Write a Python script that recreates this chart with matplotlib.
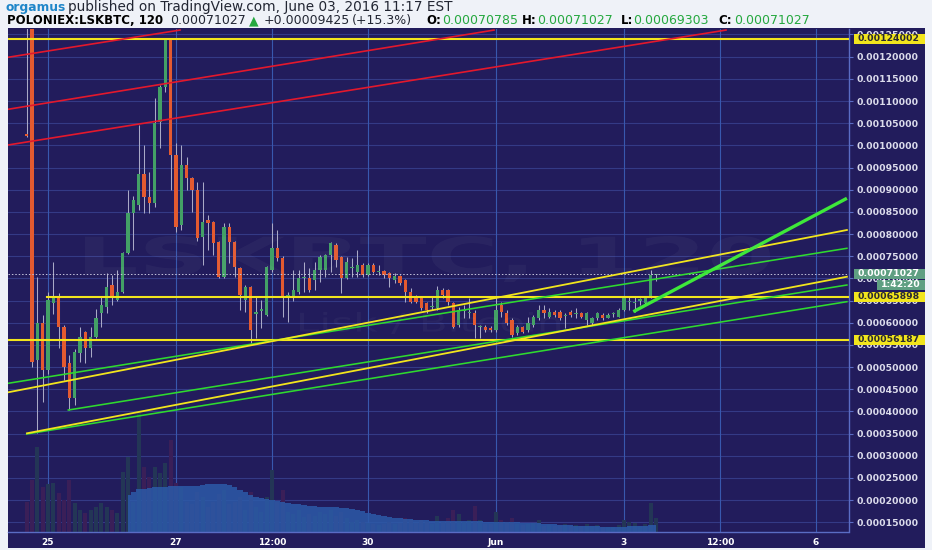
import matplotlib
matplotlib.use("Agg")
import numpy as np
import matplotlib.pyplot as plt
from matplotlib.patches import Rectangle, PathPatch
from matplotlib.textpath import TextPath
from matplotlib.font_manager import FontProperties
from matplotlib.transforms import IdentityTransform, Affine2D, blended_transform_factory

W, H = 932, 550

# candle index 0 = May 25 00:00, one candle every 2 hours
# prices are in units of 1e-5 BTC
candle_idx = list(range(-4, 115))
opens = [102.6, 135.0, 51.6, 59.9, 49.3, 64.5, 65.8, 59.0, 50.9, 43.0,
         53.2, 57.9, 54.3, 56.8, 62.2, 63.6, 68.5, 65.1, 67.0, 75.7,
         84.7, 86.5, 93.5, 88.3, 87.0, 105.3, 113.2, 123.8, 97.8, 82.0,
         95.6, 92.6, 89.9, 79.3, 83.2, 82.7, 78.2, 70.3, 81.6, 78.2,
         72.3, 65.1, 68.1, 62.0, 62.7, 61.7, 71.9, 76.8, 74.6, 65.6,
         65.6, 66.9, 70.0, 70.1, 69.6, 71.9, 71.9, 75.3, 77.6, 74.8,
         70.1, 72.3, 71.4, 73.0, 70.8, 73.0, 71.4, 71.7, 71.2, 69.6,
         70.5, 69.6, 66.9, 65.8, 65.8, 64.4, 63.6, 63.3, 67.4, 67.4,
         64.4, 59.5, 62.6, 62.2, 62.2, 59.0, 59.0, 58.8, 58.4, 64.0,
         62.2, 60.6, 57.7, 59.0, 58.4, 59.5, 61.1, 62.9, 61.3, 62.4,
         62.4, 61.6, 62.4, 61.9, 62.2, 60.6, 59.9, 61.1, 61.7, 61.1,
         61.9, 61.3, 62.9, 64.6, 64.5, 65.0, 64.4, 65.8, 70.785]
highs = [140.0, 140.0, 70.3, 61.7, 67.0, 73.7, 66.7, 59.5, 52.7, 54.0,
         59.0, 58.1, 59.0, 63.1, 65.9, 71.1, 70.8, 71.9, 76.0, 89.9,
         88.5, 104.6, 100.1, 94.0, 110.7, 113.5, 124.0, 124.0, 100.5, 100.1,
         97.4, 92.9, 91.7, 91.7, 84.3, 83.0, 78.5, 82.5, 82.5, 78.5,
         72.5, 68.5, 68.3, 65.8, 65.1, 72.8, 82.5, 80.9, 75.0, 66.9,
         71.9, 71.9, 73.7, 72.3, 73.7, 75.3, 75.5, 78.2, 78.0, 75.0,
         74.8, 74.6, 76.4, 73.5, 73.5, 73.5, 73.0, 71.9, 71.4, 71.2,
         70.8, 69.8, 67.9, 66.3, 65.9, 64.7, 65.8, 68.3, 67.9, 67.6,
         64.6, 63.5, 64.0, 65.6, 62.9, 59.5, 59.5, 59.3, 65.8, 64.7,
         62.9, 61.1, 59.5, 59.3, 61.3, 61.7, 64.0, 64.0, 63.3, 62.9,
         62.9, 62.2, 62.9, 63.3, 62.4, 62.4, 61.3, 62.4, 62.2, 62.2,
         62.4, 63.3, 65.8, 65.8, 65.8, 65.6, 65.8, 71.9, 71.027]
lows = [101.9, 50.0, 35.1, 42.1, 48.5, 62.0, 54.3, 47.1, 40.3, 41.4,
        51.1, 50.9, 52.3, 56.6, 59.1, 62.1, 64.0, 64.8, 66.8, 75.5,
        76.4, 85.5, 84.7, 84.7, 86.0, 99.4, 112.0, 89.9, 80.5, 80.9,
        89.9, 85.0, 78.5, 73.0, 76.4, 75.3, 70.1, 70.1, 73.5, 70.3,
        62.9, 62.4, 55.4, 56.5, 58.8, 61.5, 71.5, 74.0, 61.3, 60.2,
        65.0, 66.5, 66.9, 66.9, 67.4, 69.2, 70.3, 71.4, 72.6, 66.7,
        69.9, 70.3, 70.3, 70.3, 70.5, 71.2, 70.8, 70.1, 68.1, 69.0,
        68.5, 64.7, 64.4, 64.4, 62.9, 62.2, 62.9, 62.9, 65.6, 64.0,
        58.8, 59.0, 61.1, 61.1, 56.5, 56.5, 57.9, 57.9, 58.0, 61.3,
        59.5, 56.8, 57.2, 57.7, 57.9, 59.0, 60.6, 61.1, 61.1, 61.3,
        60.6, 58.8, 61.3, 61.1, 61.1, 59.5, 59.5, 60.6, 60.6, 61.1,
        61.3, 61.3, 62.7, 62.9, 62.4, 64.0, 64.0, 65.6, 69.303]
closes = [102.2, 51.1, 59.9, 49.3, 65.1, 65.8, 59.0, 50.0, 43.0, 53.4,
          56.8, 54.3, 56.8, 61.1, 64.0, 68.1, 65.5, 67.0, 75.7, 84.7,
          87.7, 93.5, 88.3, 87.0, 105.0, 113.2, 123.8, 97.8, 81.6, 95.6,
          92.6, 89.9, 79.1, 82.7, 82.5, 78.0, 70.3, 81.6, 78.2, 72.6,
          66.3, 68.1, 58.4, 62.4, 63.0, 72.6, 76.8, 74.6, 65.6, 66.2,
          67.4, 70.1, 70.2, 67.4, 71.9, 74.8, 75.3, 78.0, 74.1, 70.1,
          73.7, 72.5, 73.0, 70.8, 73.0, 71.4, 71.6, 70.8, 70.1, 70.5,
          69.0, 66.9, 64.7, 64.7, 63.3, 62.9, 63.8, 67.4, 66.3, 64.7,
          59.0, 62.9, 62.9, 62.5, 59.5, 59.2, 58.4, 58.4, 62.9, 62.4,
          59.9, 57.2, 59.0, 57.9, 59.9, 61.3, 62.9, 62.2, 62.4, 61.7,
          61.1, 61.8, 61.7, 62.0, 61.3, 62.2, 61.1, 62.2, 61.1, 61.7,
          62.0, 62.9, 65.6, 64.8, 64.7, 65.2, 65.8, 70.8, 71.027]

# volume bars (relative units, same candles)
volume = [30, 52, 85, 45, 48, 49, 39, 32, 52, 29,
          22, 19, 22, 25, 29, 25, 22, 19, 60, 75,
          30, 119, 65, 55, 65, 59, 69, 92, 49, 45,
          30, 28, 40, 35, 25, 30, 38, 42, 28, 30,
          35, 22, 40, 25, 20, 35, 62, 30, 42, 20,
          18, 22, 15, 18, 16, 20, 18, 22, 16, 20,
          14, 10, 12, 10, 9, 8, 7, 8, 10, 8,
          9, 14, 12, 9, 12, 10, 8, 16, 10, 14,
          22, 18, 10, 12, 26, 12, 8, 8, 20, 12,
          10, 14, 8, 7, 8, 9, 12, 6, 7, 6,
          7, 8, 6, 7, 6, 8, 6, 7, 5, 5,
          5, 7, 12, 10, 9, 6, 8, 29, 14]

# blue volume area, candles 15..114
vol_area_idx = list(range(15, 115))
vol_area = [37, 40, 43, 43, 44, 45, 45, 45, 46, 46,
            46, 46, 46, 46, 47, 48, 48, 48, 48, 47,
            45, 42, 40, 37, 35, 34, 33, 32, 31, 30,
            29, 28, 28, 27, 26, 26, 25, 25, 25, 25,
            24, 24, 23, 22, 21, 19, 18, 17, 16, 15,
            14, 14, 13, 13, 12, 12, 12, 11, 11, 11,
            11, 11, 11, 11, 11, 11, 11, 10, 10, 10,
            10, 10, 10, 10, 9, 9, 9, 9, 8, 8,
            8, 7, 7, 7, 6, 6, 6, 6, 6, 5,
            5, 5, 5, 5, 6, 6, 6, 6, 7, 7]

time_ticks = [0, 24, 42, 60, 84, 108, 126, 144]
time_labels = ["25", "27", "12:00", "30", "Jun", "3", "12:00", "6"]
price_ticks = list(range(15, 130, 5))

# horizontal levels and where they start
h_levels = [124.002, 65.898, 56.187]
h_starts = [-7.5, -0.25, -7.5]
last_price = 71.027

# drawn trend lines: (idx0, price0, idx1, price1)
red_lines = [(-7.5, 119.86, 24.75, 126.0),
             (-7.5, 108.13, 83.63, 126.0),
             (-7.5, 100.08, 127.13, 126.0)]
yellow_lines = [(-7.5, 44.30, 149.8, 80.91),
                (-3.94, 35.06, 149.8, 70.37)]
green_lines = [(-7.5, 46.33, 149.8, 76.78),
               (3.81, 40.31, 149.8, 68.50),
               (-3.99, 34.90, 149.8, 64.74)]
thick_green = (109.75, 62.48, 149.8, 88.06)

BG = "#221c5c"
PAGE = "#eff2f8"
GRID_H = "#343a86"
GRID_V = "#3858ae"
FRAME = "#5a6cc4"
UP = "#43a066"
DOWN = "#e35a30"
WICK = "#a9a9c6"
YELLOW = "#f2e51d"
GREEN = "#2fd92f"
RED = "#e3182c"


def fmt_price(p):
    return "%.8f" % (p * 1e-5)


def draw_header(fig):
    dark = "#222633"
    green = "#25a83f"

    def put(x, y, text, color, weight, size):
        fig.text(x, H - y, text, color=color, fontsize=size, fontweight=weight,
                 va="center", ha="left", transform=IdentityTransform())

    put(6, 7.5, "orgamus", "#1f86c9", "bold", 8.8)
    put(68, 7.5, "published on TradingView.com, June 03, 2016 11:17 EST", dark, "normal", 9.8)

    line2 = [(7, "POLONIEX:LSKBTC, 120", "black", "bold", 8.5),
             (170, "0.00071027", dark, "normal", 9.0),
             (249, "\u25b2", green, "normal", 9.0),
             (264, "+0.00009425", dark, "normal", 9.0),
             (352, "(+15.3%)", dark, "normal", 9.0),
             (426, "O:", "black", "bold", 8.5),
             (442, "0.00070785", green, "normal", 9.0),
             (522, "H:", "black", "bold", 8.5),
             (537, "0.00071027", green, "normal", 9.0),
             (621, "L:", "black", "bold", 8.5),
             (633, "0.00069303", green, "normal", 9.0),
             (718, "C:", "black", "bold", 8.5),
             (734, "0.00071027", green, "normal", 9.0)]
    for x, text, color, weight, size in line2:
        put(x, 20.5, text, color, weight, size)


def draw_watermark(fig):
    for text, box, weight in [("LSKBTC, 120", (85, 236, 770, 282), "bold"),
                              ("Lisk / Bitcoin", (300, 312, 560, 334), "normal")]:
        tp = TextPath((0, 0), text, size=1,
                      prop=FontProperties(family="DejaVu Sans", weight=weight))
        ext = tp.get_extents()
        x0, y0, x1, y1 = box
        sx = (x1 - x0) / ext.width
        sy = (y1 - y0) / ext.height
        tr = Affine2D().translate(-ext.x0, -ext.y0).scale(sx, sy).translate(x0, H - y1)
        fig.add_artist(PathPatch(tp, transform=tr, fc="white", ec="none",
                                 alpha=0.035, zorder=1.5))


def draw_candles(ax):
    x = np.array(candle_idx)
    o = np.array(opens)
    c = np.array(closes)
    up = c >= o
    bottom = np.minimum(o, c)
    height = np.maximum(np.abs(c - o), 0.25)
    ax.vlines(x, lows, highs, color=WICK, lw=0.75, zorder=3)
    ax.bar(x[up], height[up], bottom=bottom[up], width=0.62, color=UP,
           linewidth=0, zorder=4)
    ax.bar(x[~up], height[~up], bottom=bottom[~up], width=0.62, color=DOWN,
           linewidth=0, zorder=4)


def draw_volume(ax):
    trans = blended_transform_factory(ax.transData, ax.transAxes)
    full = 503.0
    x = np.array(candle_idx)
    v = np.array(volume) / full
    up = np.array(closes) >= np.array(opens)
    ax.bar(x[up], v[up], width=0.8, color="#233656", linewidth=0,
           transform=trans, zorder=1.2)
    ax.bar(x[~up], v[~up], width=0.8, color="#3a1f58", linewidth=0,
           transform=trans, zorder=1.2)
    ax.fill_between(vol_area_idx, 0, np.array(vol_area) / full, step="mid",
                    color="#2c5aa8", alpha=0.85, linewidth=0,
                    transform=trans, zorder=1.3)


def draw_lines(ax):
    for lvl, start in zip(h_levels, h_starts):
        ax.plot([start, 151], [lvl, lvl], color=YELLOW, lw=1.5, zorder=5)
    ax.axhline(last_price, color="#c4c4dc", lw=0.7, ls=(0, (1.5, 2)), zorder=4.5)
    for x0, y0, x1, y1 in red_lines:
        ax.plot([x0, x1], [y0, y1], color=RED, lw=1.2, zorder=5)
    for x0, y0, x1, y1 in green_lines:
        ax.plot([x0, x1], [y0, y1], color=GREEN, lw=1.15, zorder=5)
    for x0, y0, x1, y1 in yellow_lines:
        ax.plot([x0, x1], [y0, y1], color=YELLOW, lw=1.3, zorder=5.2)
    x0, y0, x1, y1 = thick_green
    ax.plot([x0, x1], [y0, y1], color="#3ee83a", lw=2.4, zorder=5.5,
            solid_capstyle="butt")


def price_box(fig, ax, price, text, fc, tc, x0=854, x1=925, h=10):
    y = ax.transData.transform((0, price))[1]
    fig.add_artist(Rectangle((x0, y - h / 2), x1 - x0, h, transform=IdentityTransform(),
                             fc=fc, ec="none", zorder=20))
    fig.text(x0 + 3, y, text, color=tc, fontsize=6.7, fontweight="bold",
             va="center", ha="left", transform=IdentityTransform(), zorder=21)


def main():
    fig = plt.figure(figsize=(W / 100, H / 100), dpi=100, facecolor=PAGE)
    fig.add_artist(Rectangle((8 / W, 2 / H), 917 / W, 520 / H, transform=fig.transFigure,
                             fc=BG, ec="none", zorder=0))
    ax = fig.add_axes([8 / W, 18 / H, 840.5 / W, 503 / H])
    ax.set_facecolor(BG)

    draw_volume(ax)
    draw_candles(ax)
    draw_lines(ax)

    ax.set_xlim(-7.5, 150.1)
    ax.set_ylim(12.8, 126.24)

    for p in price_ticks:
        ax.axhline(p, color=GRID_H, lw=0.8, zorder=1)
    for t in time_ticks:
        ax.axvline(t, color=GRID_V, lw=0.8, zorder=1.1)

    ax.yaxis.tick_right()
    ax.set_yticks(price_ticks)
    ax.set_yticklabels([fmt_price(p) for p in price_ticks])
    ax.tick_params(axis="y", colors=FRAME, length=3, width=0.8, pad=3,
                   labelsize=6.7, labelcolor="#dcdcec")
    for lab in ax.get_yticklabels():
        lab.set_fontweight("bold")
    ax.set_xticks(time_ticks)
    ax.set_xticklabels(time_labels)
    ax.tick_params(axis="x", length=0, pad=4, labelsize=6.5, labelcolor="white")
    for lab in ax.get_xticklabels():
        lab.set_fontweight("bold")

    for side in ["left", "top"]:
        ax.spines[side].set_visible(False)
    for side in ["right", "bottom"]:
        ax.spines[side].set_color(FRAME)
        ax.spines[side].set_linewidth(1.0)

    for lvl in h_levels:
        price_box(fig, ax, lvl, fmt_price(lvl), YELLOW, "#2a2a30")
    price_box(fig, ax, last_price, fmt_price(last_price), "#5f9f82", "white")
    y_last = ax.transData.transform((0, last_price))[1]
    fig.add_artist(Rectangle((877, y_last - 16), 48, 10, transform=IdentityTransform(),
                             fc="#5f9f82", ec="none", zorder=20))
    fig.text(921, y_last - 11, "1:42:20", color="white", fontsize=6.7, fontweight="bold",
             va="center", ha="right", transform=IdentityTransform(), zorder=21)

    draw_watermark(fig)
    draw_header(fig)

    fig.savefig("out.png", dpi=100, facecolor=PAGE)


if __name__ == "__main__":
    main()
